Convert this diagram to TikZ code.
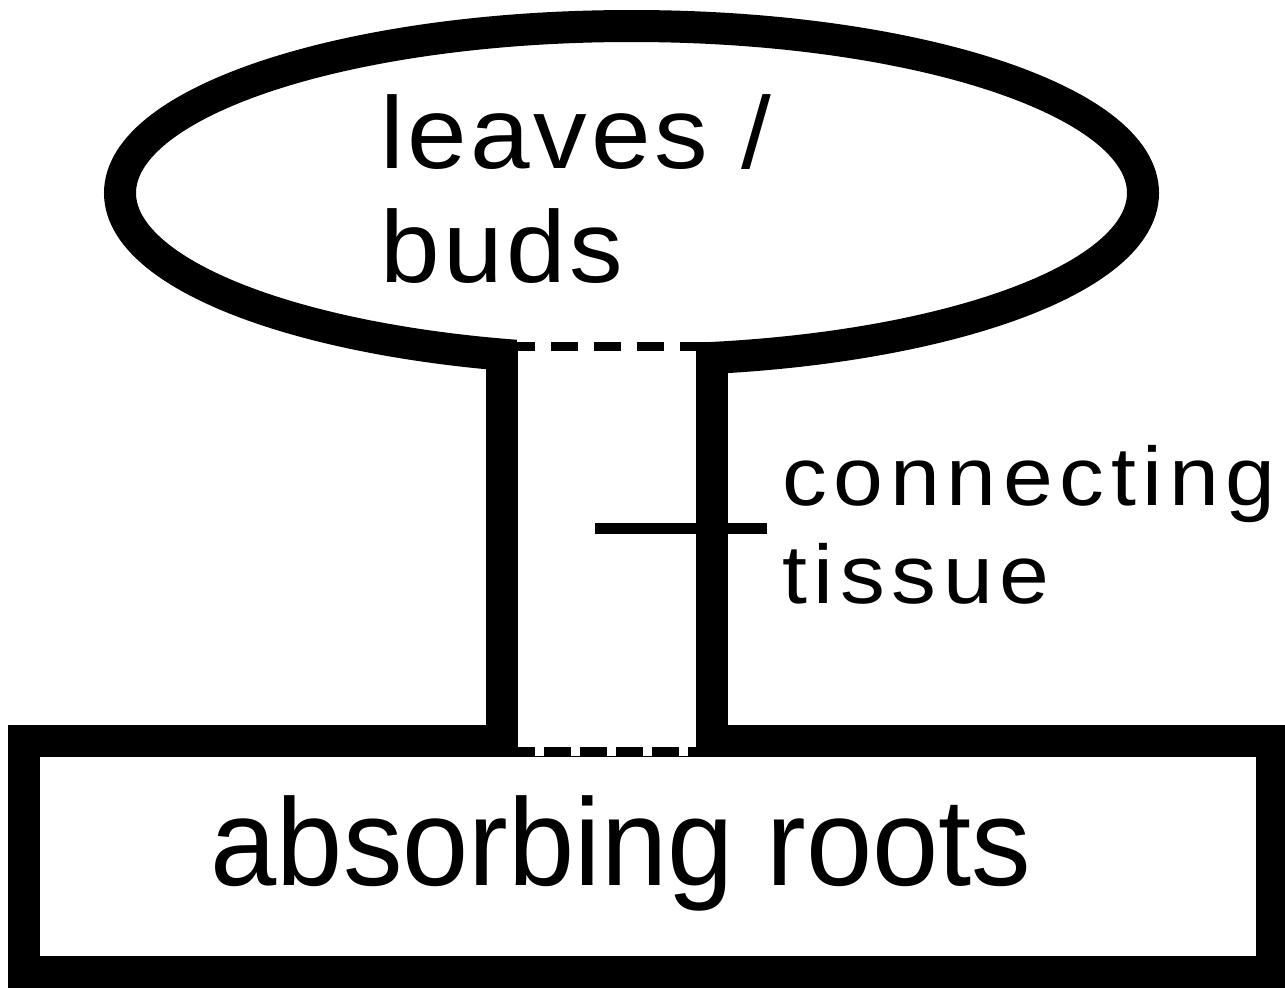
\documentclass[tikz,border=0pt]{standalone}
\usepackage{fontspec}
\setmainfont{Liberation Sans}
\newfontfamily\leaffont[LetterSpace=3.5, FakeStretch=1.05]{Liberation Sans}
\newfontfamily\tissuefont[LetterSpace=8, FakeStretch=1.08]{Liberation Sans}
\newfontfamily\rootfont[FakeStretch=0.96]{Liberation Sans}
\tikzset{
  wall/.style={line width=16pt},
  seam/.style={line width=4.5pt},
  pointer/.style={line width=5.5pt},
  label/.style={inner sep=0pt, align=left}
}
\begin{document}
\begin{tikzpicture}[x=0.5pt, y=-0.5pt]
      \useasboundingbox (0,0) rectangle (1285,987);
      % crown and roots
      \draw[wall] (631.5,193) ellipse [x radius=511.5, y radius=167];
      \draw[wall] (24,741) rectangle (1272,972);
      % stem
      \fill[white] (517,338) rectangle (696,756);
      \coordinate (topL) at (501.5,346.5);
      \coordinate (topR) at (711.5,346.5);
      \coordinate (botL) at (501.5,751);
      \coordinate (botR) at (711.5,751);
      \draw[seam, dash pattern=on 13.5pt off 8pt, dash phase=18.25pt] (topL) to (topR);
      \draw[seam, dash pattern=on 13.5pt off 4.5pt, dash phase=14.75pt] (botL) to (botR);
      \draw[wall] ([yshift=2pt]topR) to ([yshift=-2pt]botR);
      \draw[wall] (topL) to (botL);
      % labels
      \node[label, font=\leaffont\fontsize{51pt}{57pt}\selectfont, anchor=base west] (crown) at (380,282) {leaves /\\buds};
      \node[label, inner sep=7.5pt, font=\tissuefont\fontsize{41.5pt}{49pt}\selectfont, anchor=base west] (tissue) at (767,603) {connecting\\tissue};
      \node[inner sep=0pt, font=\rootfont\fontsize{62pt}{72pt}\selectfont, anchor=base] (roots) at (621,885) {absorbing roots};
      \coordinate (core) at (595,528.5);
      \draw[pointer] (core) to (core -| tissue.west);
    \end{tikzpicture}
\end{document}
